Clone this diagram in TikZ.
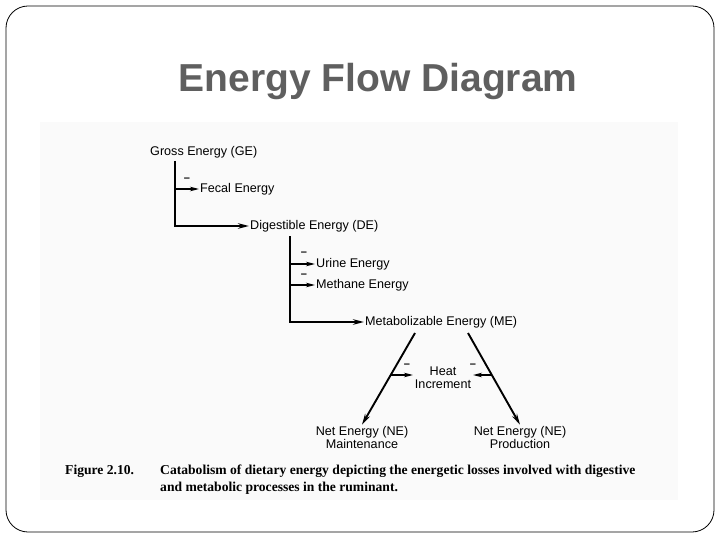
\documentclass[tikz,border=0pt]{standalone}
\usepackage{fontspec}
\setmainfont{Liberation Sans}
\newfontfamily\capfont{Liberation Serif}
\usetikzlibrary{arrows.meta}
\definecolor{titlegray}{HTML}{5F5F5F}
\definecolor{scanbg}{HTML}{FAFAFA}
\tikzset{
  lbl/.style={font=\fontsize{12.6}{13}\selectfont, inner sep=1pt, text=black},
  lblw/.style={lbl, anchor=west},
  lblc/.style={lbl, align=center},
  flow/.style={line width=1.9pt, draw=black},
  arr/.style={flow, -{Stealth[length=11pt,width=5.5pt]}},
  sarr/.style={line width=1.5pt, draw=black, -{Stealth[length=9pt,width=4.5pt]}},
  minus/.style={font=\fontsize{11}{11}\selectfont\bfseries, inner sep=0pt, text=black}
}
\begin{document}
\begin{tikzpicture}[x=1pt,y=-1pt]
\useasboundingbox (0,0) rectangle (720,540);
\draw[black, line width=0.8pt, rounded corners=22pt] (6,6) rectangle (714,532);
\fill[scanbg] (40,122) rectangle (678,500);
\node[text=titlegray, font=\fontsize{39}{42}\selectfont\bfseries] (title) at (378,82) {Energy Flow Diagram};

\node[lblw] (ge) at (149,152) {Gross Energy (GE)};
\node[lblw] (fe) at (199,189) {Fecal Energy};
\node[lblw] (de) at (249,226) {Digestible Energy (DE)};
\node[lblw] (ue) at (315,264) {Urine Energy};
\node[lblw] (me1) at (315,285) {Methane Energy};
\node[lblw] (me) at (364,322) {Metabolizable Energy (ME)};
\node[lblc] (hi) at (443,378) {Heat\\Increment};
\node[lblc] (nem) at (362,437) {Net Energy (NE)\\Maintenance};
\node[lblc] (nep) at (520,437) {Net Energy (NE)\\Production};

\coordinate (geb) at (175,161);
\draw[arr] (geb) |- (de.west);
\draw[sarr] (geb |- fe.west) -- (fe.west);
\node[minus] (m1) at (187,180) {--};

\coordinate (deb) at (290,236);
\draw[arr] (deb) |- (me.west);
\draw[sarr] (deb |- ue.west) -- (ue.west);
\draw[sarr] (deb |- me1.west) -- (me1.west);
\node[minus] (m2) at (304,254) {--};
\node[minus] (m3) at (304,276) {--};

\coordinate (mel) at (415,333);
\coordinate (mer) at (468,333);
\draw[arr] (mel) -- (nem.north);
\draw[arr] (mer) -- (nep.north);
\coordinate (hl) at (391,375);
\coordinate (hr) at (492,375);
\draw[sarr] (hl) -- (413,375);
\draw[sarr] (hr) -- (473,375);
\node[minus] (m4) at (407,366) {--};
\node[minus] (m5) at (473,366) {--};

\node[anchor=base west, inner sep=0pt, font=\capfont\fontsize{13.6}{17}\selectfont\bfseries] (fig) at (65,474) {Figure 2.10.};
\node[anchor=base west, inner sep=0pt, font=\capfont\fontsize{13.6}{17}\selectfont\bfseries] (cap) at (160,474) {Catabolism of dietary energy depicting the energetic losses involved with digestive};
\node[anchor=base west, inner sep=0pt, font=\capfont\fontsize{13.6}{17}\selectfont\bfseries] (cap2) at (160,491) {and metabolic processes in the ruminant.};
\end{tikzpicture}
\end{document}
